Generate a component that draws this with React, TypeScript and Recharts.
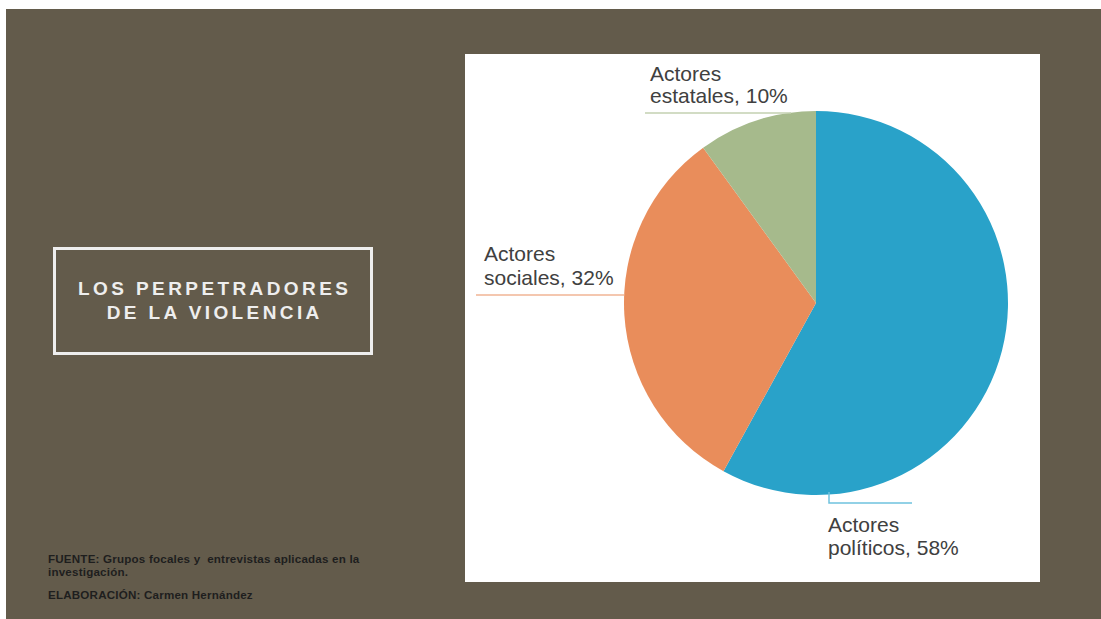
import React from "react";
import { PieChart, Pie, Cell } from "recharts";

const categories = ["Actores políticos", "Actores sociales", "Actores estatales"];
const values = [58, 32, 10];
const labelLines1 = ["Actores", "Actores", "Actores"];
const labelLines2 = ["políticos, 58%", "sociales, 32%", "estatales, 10%"];
const colors = ["#29A2C9", "#E98D5B", "#A6BA8C"];
const lineColors = ["#6FC2DE", "#F0B594", "#C3D0B0"];

const data = categories.map((name, i) => ({ name, value: values[i] }));

const FONT = "'Liberation Sans', Arial, sans-serif";

const renderLabel = (props: any) => {
  const { cx, cy, outerRadius, index } = props;
  const R = outerRadius;
  const textStyle = { fontFamily: FONT, fontSize: 21, fill: "#404040" };
  if (index === 0) {
    const tx = cx + 12;
    return (
      <g>
        <polyline
          points={`${cx + 13},${cy + R - 3} ${cx + 13},${cy + R + 8} ${cx + 96},${cy + R + 8}`}
          fill="none"
          stroke={lineColors[0]}
          strokeWidth={1.5}
        />
        <text x={tx} y={cy + R + 37} style={textStyle}>{labelLines1[0]}</text>
        <text x={tx} y={cy + R + 60} style={textStyle}>{labelLines2[0]}</text>
      </g>
    );
  }
  if (index === 1) {
    const tx = cx - 332;
    return (
      <g>
        <line x1={cx - 340} y1={cy - 8} x2={cx - R} y2={cy - 8} stroke={lineColors[1]} strokeWidth={1.5} />
        <text x={tx} y={cy - 42} style={textStyle}>{labelLines1[1]}</text>
        <text x={tx} y={cy - 18} style={textStyle}>{labelLines2[1]}</text>
      </g>
    );
  }
  const tx = cx - 166;
  return (
    <g>
      <line x1={cx - 171} y1={cy - R + 2} x2={cx - 25} y2={cy - R + 2} stroke={lineColors[2]} strokeWidth={1.5} />
      <text x={tx} y={cy - 222} style={textStyle}>{labelLines1[2]}</text>
      <text x={tx} y={cy - 200} style={textStyle}>{labelLines2[2]}</text>
    </g>
  );
};

export default function App() {
  return (
    <div style={{ position: "fixed", left: 0, top: 0, width: 1101, height: 619, overflow: "hidden", background: "#ffffff" }}>
      <div style={{ position: "absolute", left: 6, top: 9, width: 1095, height: 610, background: "#635B4B" }} />
      <div
        style={{
          position: "absolute",
          left: 53,
          top: 247,
          width: 314,
          height: 102,
          border: "3px solid #EEEEEE",
          display: "flex",
          flexDirection: "column",
          alignItems: "center",
          justifyContent: "center",
          fontFamily: FONT,
          fontWeight: "bold",
          fontSize: 19,
          letterSpacing: 3.4,
          lineHeight: "24px",
          color: "#EEEEEE",
          textAlign: "center",
        }}
      >
        <div style={{ marginRight: -3.4 }}>LOS PERPETRADORES</div>
        <div style={{ marginRight: -3.4 }}>DE LA VIOLENCIA</div>
      </div>
      <div
        style={{
          position: "absolute",
          left: 48,
          top: 553,
          width: 380,
          fontFamily: FONT,
          fontWeight: "bold",
          fontSize: 11.6,
          letterSpacing: 0.2,
          lineHeight: "12.5px",
          color: "#1E1E1E",
        }}
      >
        <div>FUENTE: Grupos focales y&nbsp; entrevistas aplicadas en la</div>
        <div>investigación.</div>
        <div style={{ marginTop: 11 }}>ELABORACIÓN: Carmen Hernández</div>
      </div>
      <div style={{ position: "absolute", left: 465, top: 54, width: 575, height: 528, background: "#FFFFFF" }}>
        <PieChart width={575} height={528} margin={{ top: 0, right: 0, bottom: 0, left: 0 }}>
          <Pie
            data={data}
            dataKey="value"
            nameKey="name"
            cx={351}
            cy={249}
            outerRadius={192}
            startAngle={90}
            endAngle={-270}
            stroke="none"
            label={renderLabel}
            labelLine={false}
            isAnimationActive={false}
          >
            {data.map((d, i) => (
              <Cell key={d.name} fill={colors[i]} />
            ))}
          </Pie>
        </PieChart>
      </div>
    </div>
  );
}
